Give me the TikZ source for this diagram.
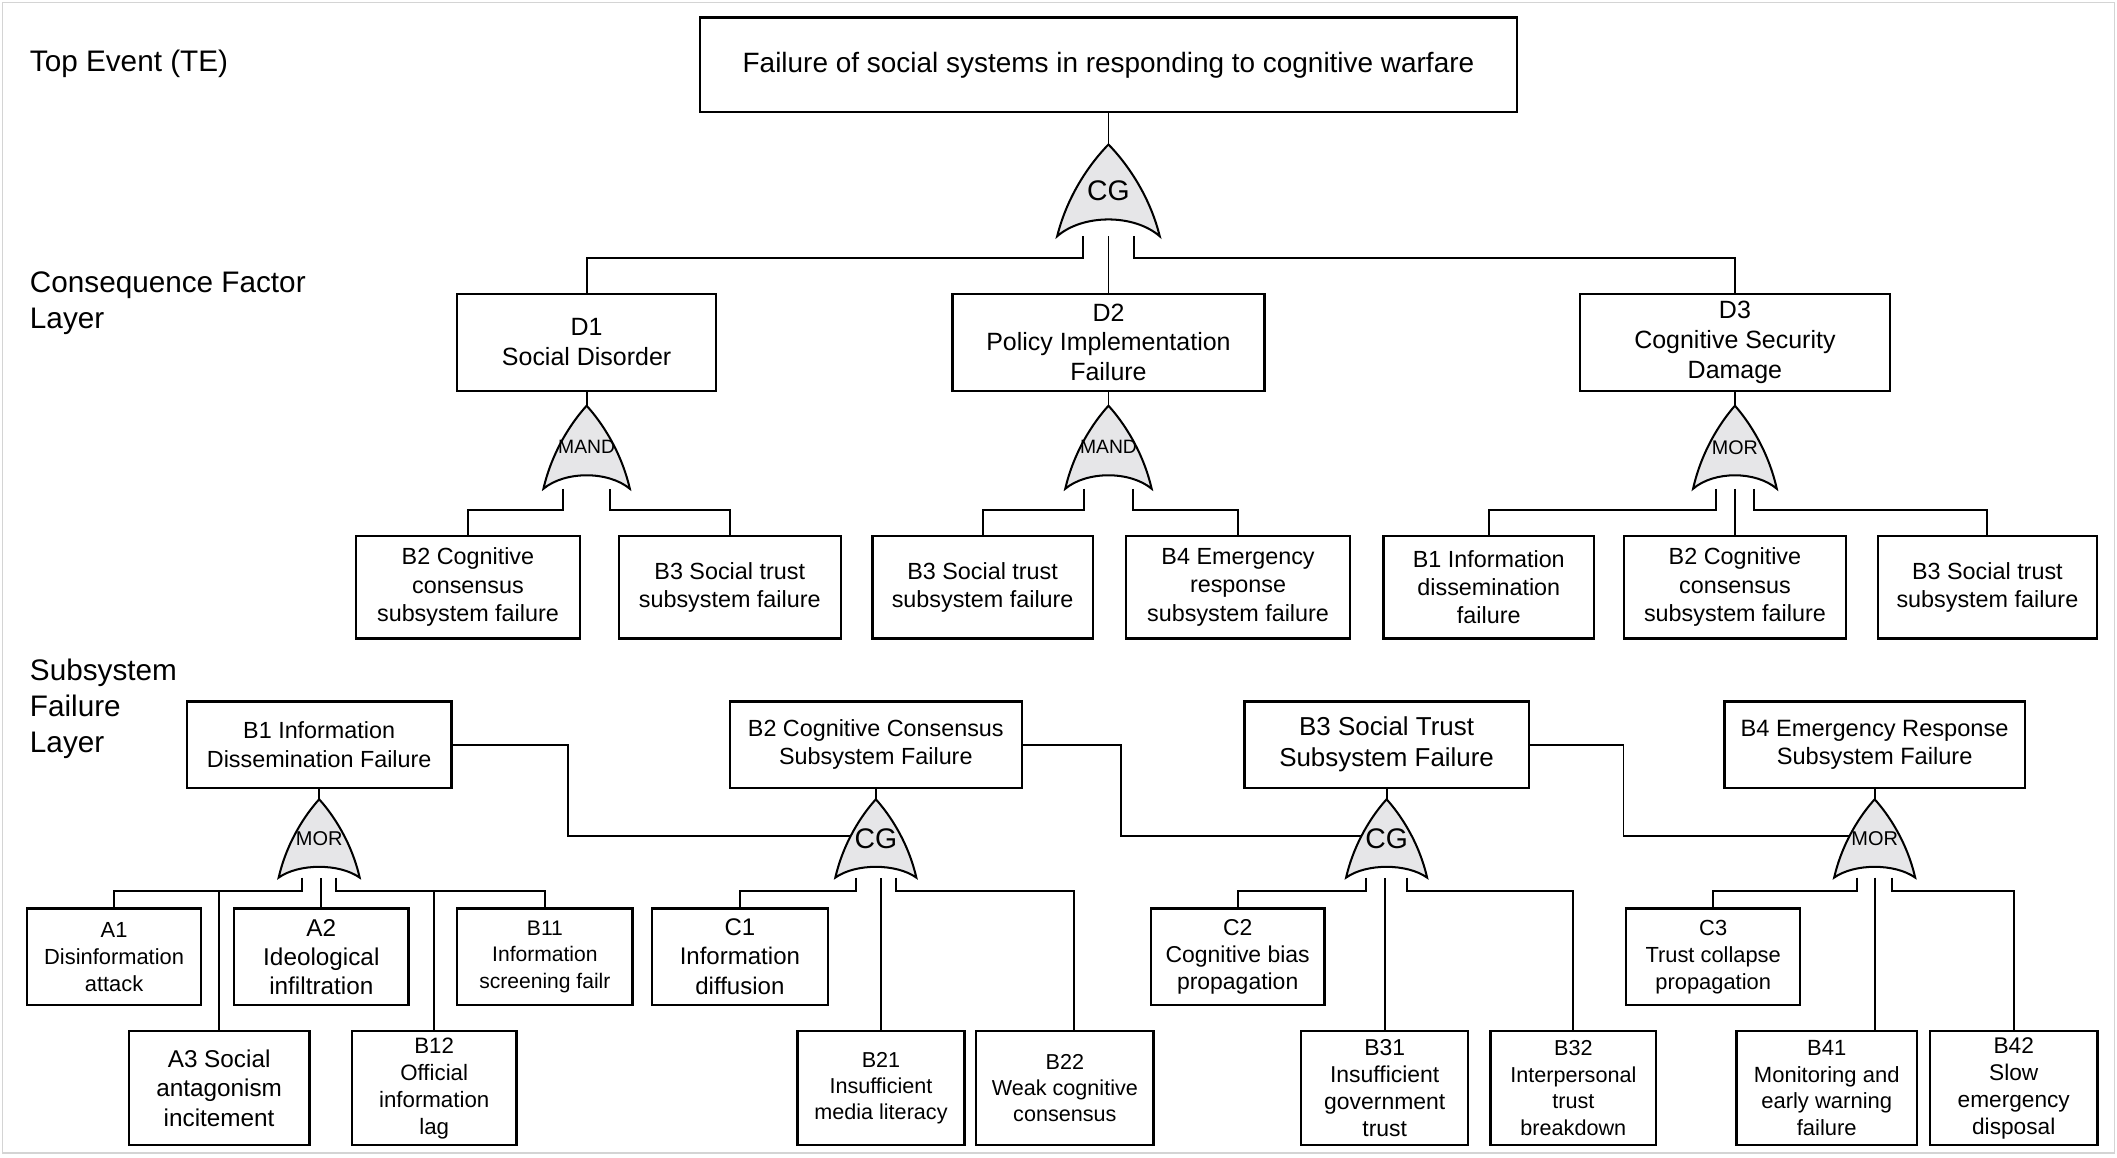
\documentclass[tikz,border=0pt]{standalone}
\usepackage{fontspec}
\setmainfont{Liberation Sans}
\usetikzlibrary{calc}
\definecolor{gatefill}{RGB}{230,230,232}
\definecolor{framegray}{RGB}{212,212,212}
\newcommand\fs[2]{\fontsize{#1}{#2}\selectfont}
\tikzset{
  bx/.style 2 args={draw, line width=1.7pt, inner sep=0pt, outer sep=0pt, align=center, minimum width=#1pt, minimum height=#2pt},
  wire/.style={line width=1.4pt},
  gateshape/.style={draw, line width=1.5pt, fill=gatefill, line join=miter, miter limit=4},
  gatelabel/.style={inner sep=0pt, outer sep=0pt},
  lbl/.style={anchor=west, align=left, inner sep=0pt, font=\fs{22}{27}}
}
% #1 name, #2 centre x, #3 apex y, #4 half width, #5 height, #6 rise of bottom arc, #7 label
\newcommand\gatenode[7]{%
  \draw[gateshape] (#2-#4,#3+#5) .. controls (#2-0.8*#4,#3+0.55*#5) and (#2-0.35*#4,#3+0.2*#5) .. (#2,#3) coordinate[pos=0.44] (#1-in)
    .. controls (#2+0.35*#4,#3+0.2*#5) and (#2+0.8*#4,#3+0.55*#5) .. (#2+#4,#3+#5)
    .. controls (#2+0.5*#4,#3+#5-1.33*#6) and (#2-0.5*#4,#3+#5-1.33*#6) .. cycle;
  \node[gatelabel, minimum width={2*#4}, minimum height={#5}] (#1) at (#2,#3+0.5*#5) {#7};%
}
\begin{document}
\begin{tikzpicture}[x=1pt,y=-1pt]
\useasboundingbox (0,0) rectangle (1568,857);
\fill[white] (0,0) rectangle (1568,857);
\draw[framegray, line width=1pt] (1.7,2) rectangle (1566,854);

% layer labels
\node[lbl] (L1) at (22,47) {Top Event (TE)};
\node[lbl] (L2) at (22,224.5) {Consequence Factor\\Layer};
\node[lbl] (L3) at (22,525) {Subsystem\\Failure\\Layer};

% top event
\node[bx={605}{70}, font=\fs{20.7}{25}] (T) at (821,48) {Failure of social systems in responding to cognitive warfare};
\gatenode{g0}{821}{107}{38}{68}{12.5}{\fs{21}{25}CG}

% consequence layer
\node[bx={192}{72}, font=\fs{18.5}{22}] (D1) at (434.5,253.5) {D1\\Social Disorder};
\node[bx={231}{72}, font=\fs{18.5}{22}] (D2) at (821,253.5) {D2\\Policy Implementation\\Failure};
\node[bx={230}{72}, font=\fs{18.5}{22}] (D3) at (1285,253.5) {D3\\Cognitive Security\\Damage};

\draw[wire] (T.south) -- (g0.north);
\draw[wire] ($(g0.south)+(-19,0)$) -- ++(0,16) -| (D1.north);
\draw[wire] (g0.south) -- (D2.north);
\draw[wire] ($(g0.south)+(19,0)$) -- ++(0,16) -| (D3.north);

\gatenode{gD1}{434.5}{300.5}{32}{61.5}{10}{\fs{14.3}{17}MAND}
\gatenode{gD2}{821}{300.5}{32}{61.5}{10}{\fs{14.3}{17}MAND}
\gatenode{gD3}{1285}{300.5}{31}{61.5}{10}{\fs{14.6}{17}MOR}
\draw[wire] (D1.south) -- (gD1.north);
\draw[wire] (D2.south) -- (gD2.north);
\draw[wire] (D3.south) -- (gD3.north);

\node[bx={166}{76}, font=\fs{17.3}{21}] (c1) at (346.6,434.9) {B2 Cognitive\\consensus\\subsystem failure};
\node[bx={164.4}{76}, font=\fs{17.3}{21}] (c2) at (540.5,434.9) {B3 Social trust\\subsystem failure};
\node[bx={163}{76}, font=\fs{17.3}{21}] (c3) at (727.8,434.9) {B3 Social trust\\subsystem failure};
\node[bx={166}{76}, font=\fs{17.3}{21}] (c4) at (917,434.9) {B4 Emergency\\response\\subsystem failure};
\node[bx={156}{76}, font=\fs{17.3}{21}] (c5) at (1102.7,434.9) {B1 Information\\dissemination\\failure};
\node[bx={164}{76}, font=\fs{17.3}{21}] (c6) at (1285,434.9) {B2 Cognitive\\consensus\\subsystem failure};
\node[bx={162.3}{76}, font=\fs{17.3}{21}] (c7) at (1472,434.9) {B3 Social trust\\subsystem failure};

\draw[wire] ($(gD1.south)+(-17.5,0)$) -- ++(0,16) -| (c1.north);
\draw[wire] ($(gD1.south)+(17.5,0)$) -- ++(0,16) -| (c2.north);
\draw[wire] ($(gD2.south)+(-18,0)$) -- ++(0,16) -| (c3.north);
\draw[wire] ($(gD2.south)+(18,0)$) -- ++(0,16) -| (c4.north);
\draw[wire] ($(gD3.south)+(-14,0)$) -- ++(0,16) -| (c5.north);
\draw[wire] (gD3.south) -- (c6.north);
\draw[wire] ($(gD3.south)+(14,0)$) -- ++(0,16) -| (c7.north);

% subsystem failure layer
\node[bx={196}{64}, font=\fs{17.3}{21}] (B1) at (236.4,551.6) {B1 Information\\Dissemination Failure};
\node[bx={216.3}{64}, font=\fs{17.3}{21}] (B2) at (648.7,551.6) {B2 Cognitive Consensus\\Subsystem Failure};
\node[bx={210.6}{64}, font=\fs{19.2}{23}] (B3) at (1027,551.6) {B3 Social Trust\\Subsystem Failure};
\node[bx={222.3}{64}, font=\fs{17.5}{21}] (B4) at (1388.5,551.6) {B4 Emergency Response\\Subsystem Failure};

\gatenode{gB1}{236.4}{592}{30}{58}{8}{\fs{14.8}{17}MOR}
\gatenode{gB2}{648.7}{592}{30}{58}{8}{\fs{21}{25}CG}
\gatenode{gB3}{1027}{592}{30}{58}{8}{\fs{21}{25}CG}
\gatenode{gB4}{1388.5}{592}{30}{58}{8}{\fs{14.8}{17}MOR}
\draw[wire] (B1.south) -- (gB1.north);
\draw[wire] (B2.south) -- (gB2.north);
\draw[wire] (B3.south) -- (gB3.north);
\draw[wire] (B4.south) -- (gB4.north);

% cross links
\coordinate (k1) at (420.5,600);
\coordinate (k2) at (830,600);
\coordinate (k3) at (1202.5,600);
\draw[wire] (B1.east) -| (k1 |- gB2-in) -- (gB2-in);
\draw[wire] (B2.east) -| (k2 |- gB3-in) -- (gB3-in);
\draw[wire] (B3.east) -| (k3 |- gB4-in) -- (gB4-in);

% basic events, row 1
\node[bx={129}{71.6}, font=\fs{16.2}{20}] (A1) at (84.5,708.6) {A1\\Disinformation\\attack};
\node[bx={129}{71.6}, font=\fs{18}{21.5}] (A2) at (238,708.6) {A2\\Ideological\\infiltration};
\node[bx={129.8}{71.6}, font=\fs{15.6}{19.5}] (B11) at (403.6,708.6) {B11\\Information\\screening failr};
\node[bx={130.7}{71.6}, font=\fs{17.8}{21.5}] (C1) at (548,708.6) {C1\\Information\\diffusion};
\node[bx={128.6}{71.6}, font=\fs{17}{20}] (C2) at (916.7,708.6) {C2\\Cognitive bias\\propagation};
\node[bx={129}{71.6}, font=\fs{16.2}{20}] (C3) at (1268.9,708.6) {C3\\Trust collapse\\propagation};

% basic events, row 2
\node[bx={133.7}{84.4}, font=\fs{18}{22}] (A3) at (162.3,805.9) {A3 Social\\antagonism\\incitement};
\node[bx={122}{84.4}, font=\fs{16.5}{20}] (B12) at (321.6,805.9) {B12\\Official\\information\\lag};
\node[bx={123.8}{84.4}, font=\fs{16}{19.5}] (B21) at (652.5,805.9) {B21\\Insufficient\\media literacy};
\node[bx={131.4}{84.4}, font=\fs{16}{19.5}] (B22) at (788.7,805.9) {B22\\Weak cognitive\\consensus};
\node[bx={123.7}{84.4}, font=\fs{17}{20}] (B31) at (1025.6,805.9) {B31\\Insufficient\\government\\trust};
\node[bx={122.5}{84.4}, font=\fs{16}{19.7}] (B32) at (1165.3,805.9) {B32\\Interpersonal\\trust\\breakdown};
\node[bx={133.7}{84.4}, font=\fs{16.3}{19.7}] (B41) at (1353,805.9) {B41\\Monitoring and\\early warning\\failure};
\node[bx={124.2}{84.4}, font=\fs{16.8}{20}] (B42) at (1491.5,805.9) {B42\\Slow\\emergency\\disposal};

% gate B1 connections
\coordinate (busB1) at ($(gB1.south)+(0,10)$);
\draw[wire] ($(gB1.south)+(-12.5,0)$) -- ++(0,10) -| (A1.north);
\draw[wire] (A3.north) -- (A3.north |- busB1);
\draw[wire] (A2.north) -- (A2.north |- gB1.south);
\draw[wire] ($(gB1.south)+(12.5,0)$) -- ++(0,10) -| (B11.north);
\draw[wire] (B12.north) -- (B12.north |- busB1);

% gate B2 connections
\coordinate (B22in) at ($(B22.north)+(7,0)$);
\draw[wire] ($(gB2.south)+(-15,0)$) -- ++(0,10) -| (C1.north);
\draw[wire] (B21.north) -- (B21.north |- gB2.south);
\draw[wire] ($(gB2.south)+(15,0)$) -- ++(0,10) -| (B22in);

% gate B3 connections
\draw[wire] ($(gB3.south)+(-15.5,0)$) -- ++(0,10) -| (C2.north);
\draw[wire] (B31.north) -- (B31.north |- gB3.south);
\draw[wire] ($(gB3.south)+(15,0)$) -- ++(0,10) -| (B32.north);

% gate B4 connections
\draw[wire] ($(gB4.south)+(-13,0)$) -- ++(0,10) -| (C3.north);
\draw[wire] (gB4.south) -- (gB4.south |- B41.north);
\draw[wire] ($(gB4.south)+(13,0)$) -- ++(0,10) -| (B42.north);
\end{tikzpicture}
\end{document}
